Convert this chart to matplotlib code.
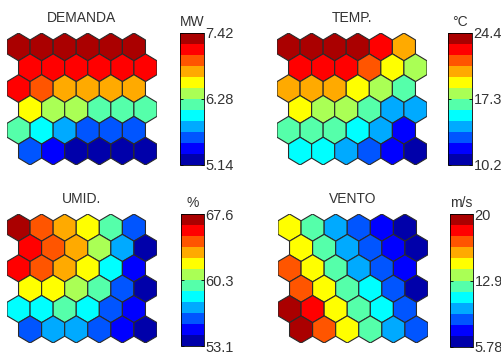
import numpy as np
import matplotlib
matplotlib.use("Agg")
import matplotlib.pyplot as plt
from matplotlib.patches import RegularPolygon
from matplotlib.colors import ListedColormap, Normalize
from matplotlib.cm import ScalarMappable

plt.rcParams["font.family"] = ["Liberation Sans", "DejaVu Sans"]

# Component planes of a 6x6 hexagonal SOM (top row first)
titles = ["DEMANDA", "TEMP.", "UMID.", "VENTO"]
units = ["MW", "°C", "%", "m/s"]
vmins = [5.14, 10.2, 53.1, 5.78]
vmaxs = [7.42, 24.4, 67.6, 20.0]
tick_labels = [["5.14", "6.28", "7.42"],
               ["10.2", "17.3", "24.4"],
               ["53.1", "60.3", "67.6"],
               ["5.78", "12.9", "20"]]

demanda = [[7.33, 7.33, 7.33, 7.33, 7.33, 7.33],
           [7.14, 7.14, 7.14, 7.14, 7.14, 7.14],
           [7.14, 6.95, 6.76, 6.76, 6.76, 6.76],
           [6.57, 6.38, 6.38, 6.19, 6.19, 6.19],
           [6.19, 6.00, 5.81, 5.62, 5.62, 5.62],
           [5.62, 5.43, 5.24, 5.24, 5.24, 5.24]]

temp = [[23.81, 23.81, 23.81, 23.81, 22.63, 20.26],
        [22.63, 22.63, 22.63, 21.44, 19.08, 17.89],
        [20.26, 20.26, 20.26, 19.08, 17.89, 16.71],
        [19.08, 17.89, 17.89, 16.71, 14.34, 14.34],
        [16.71, 16.71, 16.71, 15.53, 14.34, 11.98],
        [15.53, 15.53, 14.34, 13.16, 11.98, 10.79]]

umid = [[67.00, 64.58, 63.37, 62.16, 59.75, 56.12],
        [65.79, 64.58, 63.37, 60.95, 57.33, 53.70],
        [65.79, 64.58, 63.37, 62.16, 58.54, 54.91],
        [62.16, 62.16, 60.95, 59.75, 56.12, 53.70],
        [58.54, 58.54, 59.75, 58.54, 56.12, 54.91],
        [56.12, 57.33, 57.33, 56.12, 54.91, 53.70]]

vento = [[14.67, 12.30, 9.93, 8.74, 7.56, 6.37],
         [14.67, 12.30, 9.93, 8.74, 7.56, 6.37],
         [17.04, 14.67, 12.30, 9.93, 8.74, 7.56],
         [17.04, 14.67, 12.30, 11.11, 8.74, 6.37],
         [19.41, 18.22, 14.67, 12.30, 11.11, 8.74],
         [19.41, 17.04, 14.67, 12.30, 9.93, 8.74]]

planes = [demanda, temp, umid, vento]

# 12-level jet colormap
jet12 = ListedColormap([
    (0, 0, 2/3), (0, 0, 1), (0, 1/3, 1), (0, 2/3, 1),
    (0, 1, 1), (1/3, 1, 2/3), (2/3, 1, 1/3), (1, 1, 0),
    (1, 2/3, 0), (1, 1/3, 0), (1, 0, 0), (2/3, 0, 0)])

W, H = 502, 354
fig = plt.figure(figsize=(W / 100, H / 100), dpi=100)

def px_axes(x0, y0, x1, y1):
    return fig.add_axes([x0 / W, 1 - y1 / H, (x1 - x0) / W, (y1 - y0) / H])

# pixel boxes: (grid box, colorbar box)
layout = [((7, 33, 157, 165), (180, 33, 204, 165)),
          ((277, 33, 427, 165), (448, 33, 472, 165)),
          ((7, 214, 157, 343), (181, 214, 204, 346)),
          ((278, 214, 428, 343), (450, 214, 473, 347))]

r = 1 / np.sqrt(3)
pitch = 1.5 * r
text_col = "#333333"

for data, title, unit, vmin, vmax, tl, (gbox, cbox) in zip(
        planes, titles, units, vmins, vmaxs, tick_labels, layout):
    ax = px_axes(*gbox)
    norm = Normalize(vmin, vmax)
    arr = np.asarray(data)
    nrows, ncols = arr.shape
    for i in range(nrows):
        for j in range(ncols):
            cx = j + 0.5 * (i % 2)
            cy = -i * pitch
            ax.add_patch(RegularPolygon((cx, cy), 6, radius=r, orientation=0,
                                        facecolor=jet12(norm(arr[i, j])),
                                        edgecolor="#2a2a2a", linewidth=0.8))
    ax.set_xlim(-0.5, ncols)
    ax.set_ylim(-(nrows - 1) * pitch - r, r)
    ax.axis("off")
    ax.set_title(title, fontsize=10, color=text_col, pad=8)

    cax = px_axes(*cbox)
    cb = fig.colorbar(ScalarMappable(norm=norm, cmap=jet12), cax=cax)
    cb.set_ticks([vmin, (vmin + vmax) / 2, vmax])
    cb.set_ticklabels(tl)
    cax.tick_params(axis="y", direction="in", left=True, right=True,
                    length=2.5, width=0.6, labelsize=10.5, labelcolor=text_col,
                    pad=1)
    cb.outline.set_linewidth(0.6)
    cax.text(0.5, 1.03, unit, transform=cax.transAxes, ha="center",
             va="bottom", fontsize=10, color=text_col)

fig.savefig("out.png", dpi=100)
